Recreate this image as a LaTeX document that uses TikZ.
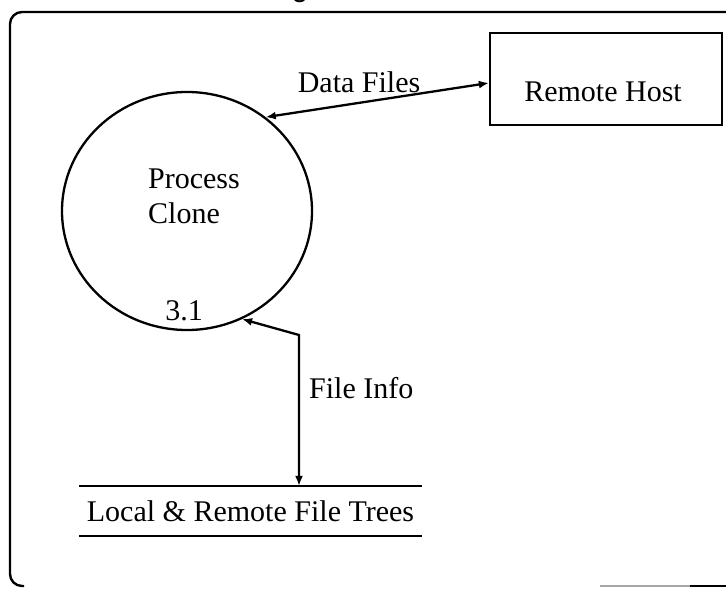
\documentclass[tikz,border=0pt]{standalone}
\usepackage{fontspec}
\setmainfont{Liberation Serif}
\newfontfamily\titlesans{Liberation Sans}
\usetikzlibrary{arrows.meta,shapes.geometric}
\begin{document}
\begin{tikzpicture}[x=0.5pt,y=-0.5pt,
  font=\fontsize{15}{18}\selectfont,
  line width=1.15pt,
  frame/.style={line width=1.2pt, rounded corners=6pt},
  proc/.style={ellipse, draw, minimum width=125pt, minimum height=119pt, inner sep=0pt},
  entity/.style={rectangle, draw, minimum width=116pt, minimum height=46pt, inner sep=0pt},
  store/.style={rectangle, minimum width=170.5pt, minimum height=24pt, inner sep=0pt},
  flow/.style={{Latex[length=5pt,width=4pt]}-{Latex[length=5pt,width=4pt]}, line width=1.15pt},
  lbl/.style={inner sep=0pt}
]
\useasboundingbox (0,0) rectangle (726,588);
% frame
\draw[frame] (740,12) -- (10,12) -- (10,586) -- (24,586);
\draw[line width=1pt, black!35] (600,586) -- (690,586);
\draw[line width=1.2pt] (690,586) -- (726,586);
% partial title glyph
\node[lbl, anchor=base, font=\titlesans\fontsize{15}{18}\selectfont] (title) at (300,-3) {g};
% process
\node[proc] (proc) at (187,211) {};
\node[lbl, anchor=base west] (ptext1) at (147,188) {Process};
\node[lbl, anchor=base west] (ptext2) at (147,223) {Clone};
\node[lbl, anchor=base] (pnum) at (184,320) {3.1};
% remote host
\node[entity] (host) at (606,79) {};
\node[lbl, anchor=base] (hosttext) at (603,102) {Remote Host};
% data store
\node[store] (store) at (250.5,511) {Local \& Remote File Trees};
\draw (store.north west) -- (store.north east);
\draw (store.south west) -- (store.south east);
% flows
\draw[flow] (proc.50) -- ([yshift=-2pt]host.west);
\node[lbl, anchor=base] (dflabel) at (359,93) {Data Files};
\coordinate (bend) at (299,335);
\draw[flow] (proc.-63) -- (bend) -- (bend |- store.north);
\node[lbl, anchor=base west] (filabel) at (308,398) {File Info};
\end{tikzpicture}
\end{document}
